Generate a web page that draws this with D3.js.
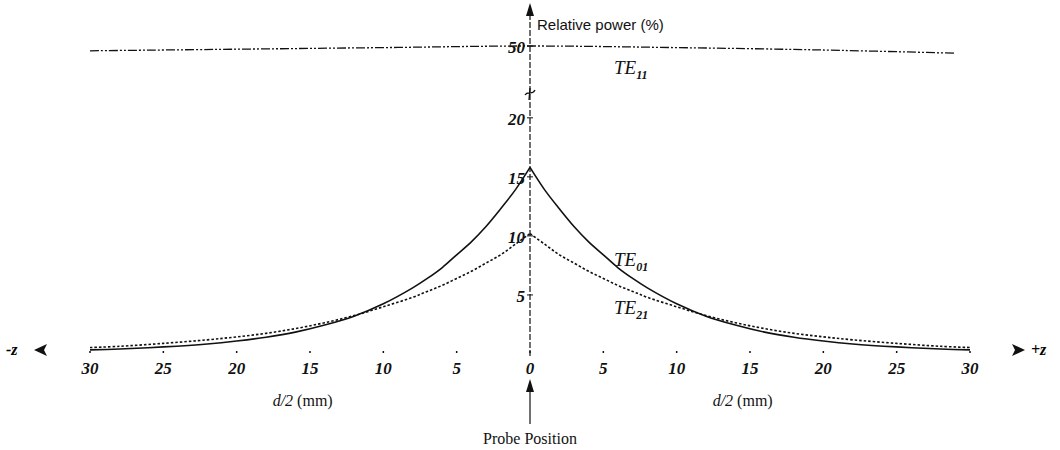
<!DOCTYPE html>
<html>
<head>
<meta charset="utf-8">
<script src="https://cdn.jsdelivr.net/npm/d3@7"></script>
<style>
  body { margin: 0; background: #ffffff; }
  .tick-label { font-family: "Liberation Serif", serif; font-style: italic; font-weight: bold; font-size: 17px; fill: #111; }
  .axis-title { font-family: "Liberation Serif", serif; font-size: 16px; fill: #111; }
</style>
</head>
<body>
<div id="chart"></div>
<script>
/* CONSTANTS AND GLOBALS */
const width = 1060,
  height = 450;

/* DATA */
// distance from the probe, d/2 in mm
const distances = [0, 1, 2, 3, 4, 5, 6, 7, 8, 10, 12, 14, 16, 18, 20, 22, 25, 28, 30];
// relative power (%) for each distance, same on both sides of the probe
const te01 = [15.8, 13.9, 12.3, 10.8, 9.5, 8.4, 7.3, 6.4, 5.6, 4.25, 3.2, 2.45, 1.85, 1.42, 1.1, 0.85, 0.6, 0.42, 0.35];
const te21 = [10.2, 9.3, 8.4, 7.7, 7.0, 6.4, 5.8, 5.3, 4.8, 4.0, 3.25, 2.65, 2.15, 1.75, 1.45, 1.2, 0.9, 0.65, 0.55];
// TE11 line, position in mm (signed) and power
const te11Pos = [-30, -20, -10, 0, 10, 20, 29];
const te11 = [49.4, 49.6, 49.8, 50, 49.8, 49.5, 49.1];

const xTicks = [-30, -25, -20, -15, -10, -5, 0, 5, 10, 15, 20, 25, 30];
const yTicks = [5, 10, 15, 20, 50];

/* SCALES */
const xScale = d3.scaleLinear()
  .domain([-30, 30])
  .range([90, 970]);

// broken y axis: 0-21 below the break, 48-50 above it
const yScale = d3.scaleLinear()
  .domain([0, 21, 48, 50])
  .range([354, 106, 62, 46]);

/* SVG */
const svg = d3.select("#chart")
  .append("svg")
  .attr("width", width)
  .attr("height", height)
  .style("background-color", "#ffffff");

const x0 = xScale(0);

// y axis line (scanned look)
svg.append("line")
  .attr("x1", x0).attr("x2", x0)
  .attr("y1", yScale(0) + 2).attr("y2", 14)
  .attr("stroke", "#111")
  .attr("stroke-width", 1.2)
  .attr("stroke-dasharray", "6,2");

// y axis arrow head
svg.append("path")
  .attr("d", `M${x0 - 4},16 L${x0},3 L${x0 + 4},16 Z`)
  .attr("fill", "#111");

// axis break squiggle
svg.append("path")
  .attr("d", `M${x0 - 5},95 C${x0 - 2},90 ${x0 + 2},96 ${x0 + 5},90 M${x0},88 L${x0 - 1},100`)
  .attr("fill", "none")
  .attr("stroke", "#111")
  .attr("stroke-width", 1.3);

// y ticks and labels
svg.selectAll(".ytick")
  .data(yTicks)
  .join("line")
  .attr("class", "ytick")
  .attr("x1", x0 - 3).attr("x2", x0 + 3)
  .attr("y1", d => yScale(d)).attr("y2", d => yScale(d))
  .attr("stroke", "#111");

svg.selectAll(".ylabel")
  .data(yTicks)
  .join("text")
  .attr("class", "tick-label")
  .attr("x", x0 - 5)
  .attr("y", d => yScale(d) + 7)
  .attr("text-anchor", "end")
  .text(d => d);

svg.append("text")
  .attr("x", x0 + 7)
  .attr("y", 30)
  .style("font-family", "'Liberation Sans', Arial, sans-serif")
  .style("font-size", "15px")
  .attr("fill", "#111")
  .text("Relative power (%)");

// x ticks and labels
svg.selectAll(".xtick")
  .data(xTicks)
  .join("line")
  .attr("class", "xtick")
  .attr("x1", d => xScale(d)).attr("x2", d => xScale(d))
  .attr("y1", yScale(0) - 3).attr("y2", yScale(0) - 1)
  .attr("stroke", "#111")
  .attr("stroke-width", 1.5);

svg.selectAll(".xlabel")
  .data(xTicks)
  .join("text")
  .attr("class", "tick-label")
  .attr("x", d => xScale(d))
  .attr("y", 374)
  .attr("text-anchor", "middle")
  .text(d => Math.abs(d));

// -z / +z arrows
const zy = 350;
svg.append("path")
  .attr("d", `M47,${zy - 6} L34,${zy} L47,${zy + 6} L44,${zy} Z`)
  .attr("fill", "#111");
svg.append("text")
  .attr("x", 6).attr("y", zy + 5)
  .style("font-family", "'Liberation Serif', serif")
  .style("font-style", "italic")
  .style("font-weight", "bold")
  .style("font-size", "16px")
  .text("-z");
svg.append("path")
  .attr("d", `M1012,${zy - 6} L1025,${zy} L1012,${zy + 6} L1015,${zy} Z`)
  .attr("fill", "#111");
svg.append("text")
  .attr("x", 1031).attr("y", zy + 5)
  .style("font-family", "'Liberation Serif', serif")
  .style("font-style", "italic")
  .style("font-weight", "bold")
  .style("font-size", "16px")
  .text("+z");

// d/2 (mm) titles
[-15.5, 14.5].forEach(c => {
  const t = svg.append("text")
    .attr("class", "axis-title")
    .attr("x", xScale(c))
    .attr("y", 406)
    .attr("text-anchor", "middle");
  t.append("tspan").style("font-style", "italic").text("d/2");
  t.append("tspan").text(" (mm)");
});

// probe position arrow
svg.append("line")
  .attr("x1", x0).attr("x2", x0)
  .attr("y1", 424).attr("y2", 390)
  .attr("stroke", "#111")
  .attr("stroke-width", 1.2);
svg.append("path")
  .attr("d", `M${x0 - 4},392 L${x0},379 L${x0 + 4},392 Z`)
  .attr("fill", "#111");
svg.append("text")
  .attr("class", "axis-title")
  .attr("x", x0)
  .attr("y", 444)
  .attr("text-anchor", "middle")
  .text("Probe Position");

/* LINES */
const lineGen = d3.line()
  .x(d => xScale(d[0]))
  .y(d => yScale(d[1]))
  .curve(d3.curveCatmullRom.alpha(0.5));

// each mode drawn as two halves so the peak stays sharp
const halves = (vals) => [
  distances.map((m, i) => [-m, vals[i]]).reverse(),
  distances.map((m, i) => [m, vals[i]])
];

svg.selectAll(".te01")
  .data(halves(te01))
  .join("path")
  .attr("class", "te01")
  .attr("fill", "none")
  .attr("stroke", "#111")
  .attr("stroke-width", 1.6)
  .attr("d", lineGen);

svg.selectAll(".te21")
  .data(halves(te21))
  .join("path")
  .attr("class", "te21")
  .attr("fill", "none")
  .attr("stroke", "#111")
  .attr("stroke-width", 1.6)
  .attr("stroke-dasharray", "2.5,2")
  .attr("d", lineGen);

svg.append("path")
  .datum(te11Pos.map((p, i) => [p, te11[i]]))
  .attr("fill", "none")
  .attr("stroke", "#111")
  .attr("stroke-width", 1.3)
  .attr("stroke-dasharray", "9,2,2,2,2,2")
  .attr("d", lineGen);

/* MODE LABELS */
const modeLabel = (x, y, sub) => {
  const t = svg.append("text")
    .attr("x", x).attr("y", y)
    .style("font-family", "'Liberation Serif', serif")
    .style("font-style", "italic")
    .style("font-size", "19px")
    .attr("fill", "#111");
  t.append("tspan").text("TE");
  t.append("tspan").attr("dy", 5).style("font-size", "12px").style("font-weight", "bold").text(sub);
};
modeLabel(614, 74, "11");
modeLabel(614, 266, "01");
modeLabel(614, 314, "21");
</script>
</body>
</html>
